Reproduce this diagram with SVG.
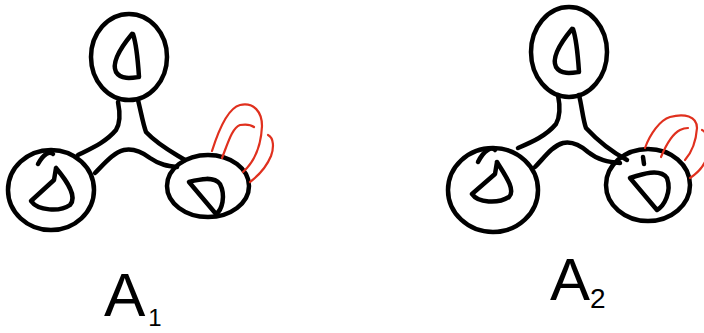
<svg xmlns="http://www.w3.org/2000/svg" width="704" height="333" viewBox="0 0 704 333">
<style>
.k{fill:none;stroke:#000;stroke-width:4.5;stroke-linecap:round;stroke-linejoin:round}
.r{fill:none;stroke:#e0301e;stroke-width:2.2;stroke-linecap:round;stroke-linejoin:round}
.t{font-family:"Liberation Sans",Arial,sans-serif;fill:#000}
</style>
<rect width="704" height="333" fill="#fff"/>
<!-- Diagram A1 -->
<g id="a1-top"><ellipse class="k" cx="129" cy="57" rx="38" ry="43"/><path class="k" d="M132,34 C122,46 111,62 116,72 C121,80 132,78 139,77 C138,62 137,46 133,34"/></g>
<g id="a1-left"><ellipse class="k" cx="51" cy="190" rx="43" ry="40"/><path class="k" d="M38,164 C44,153 50,151 53,154"/><path class="k" d="M56,168 C66,180 78,196 70,205 C60,212 38,211 31,201 L54,180 L56,168"/></g>
<g id="a1-right"><ellipse class="k" cx="208" cy="186" rx="41" ry="31"/><path class="k" d="M189,182 C200,179 214,176 220,184 C226,196 222,210 216,214 Z"/></g>
<g id="a1-connectors">
<path class="k" d="M118,102 C120,112 121,122 116,130 C106,142 92,148 78,155"/>
<path class="k" d="M138,100 C141,112 143,124 146,132 C158,145 172,152 185,160"/>
<path class="k" d="M95,173 C104,164 114,152 124,150 C134,148 142,152 150,158 C160,165 168,166 177,167"/>
</g>
<g id="a1-loops">
<path class="r" d="M212,151 C218,132 228,108 240,105 C254,102 262,112 262,126 C261,148 254,162 243,172"/>
<path class="r" d="M222,158 C228,143 232,128 240,125 C246,124 250,124 254,127"/>
<path class="r" d="M268,135 C274,138 274,148 271,156 C266,168 258,176 250,182"/>
</g>
<text class="t" x="104" y="316" font-size="62">A<tspan font-size="24" dx="3" dy="10">1</tspan></text>
<!-- Diagram A2 -->
<g id="a2-top"><ellipse class="k" cx="569" cy="52" rx="38" ry="45"/><path class="k" d="M572,29 C562,41 551,57 556,67 C561,75 572,73 579,72 C578,57 577,41 573,29"/></g>
<g id="a2-left"><ellipse class="k" cx="493" cy="190" rx="45" ry="42"/><path class="k" d="M478,162 C484,150 492,146 495,150"/><path class="k" d="M497,162 C505,175 516,190 509,197 C498,204 478,203 472,194 L495,174 L497,162"/></g>
<g id="a2-right"><ellipse class="k" cx="648" cy="185" rx="42" ry="36"/><path class="k" d="M630,178 C642,174 660,168 667,178 C672,192 664,206 657,210 Z"/><path class="k" d="M643,157 L644,164"/></g>
<g id="a2-connectors">
<path class="k" d="M558,95 C560,105 561,115 556,124 C546,136 532,142 518,148"/>
<path class="k" d="M579,95 C582,107 583,120 586,128 C598,141 612,152 627,160"/>
<path class="k" d="M535,167 C544,158 552,146 563,143 C572,141 580,145 588,152 C598,160 608,162 620,163"/>
</g>
<g id="a2-loops">
<path class="r" d="M645,148 C650,134 660,120 670,117 C684,113 697,116 697,128 C696,142 692,152 685,160"/>
<path class="r" d="M661,157 C666,145 672,134 680,130 C684,128 686,128 688,128"/>
<path class="r" d="M690,178 C696,174 702,168 705,162"/>
<path class="r" d="M702,130 C704,131 705,132 705,133"/>
</g>
<text class="t" x="550" y="300" font-size="60">A<tspan font-size="28" dx="0" dy="8">2</tspan></text>
</svg>
